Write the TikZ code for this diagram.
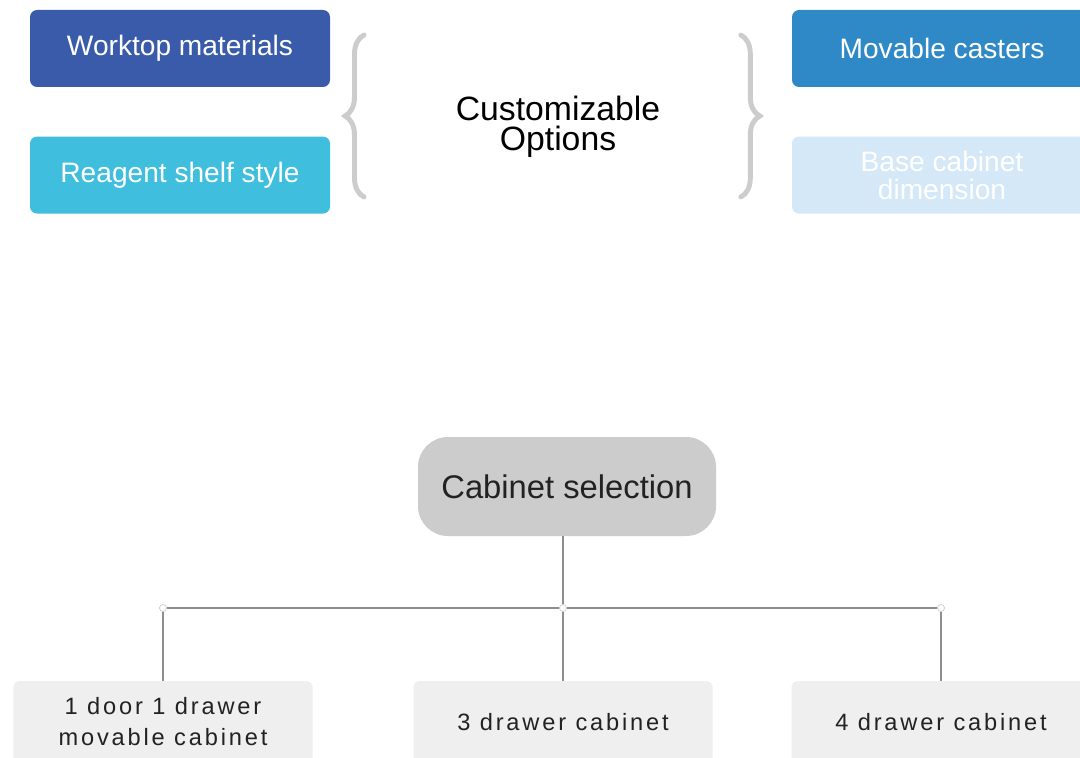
\documentclass[tikz,border=0pt]{standalone}
\usepackage{fontspec}
\setsansfont{Liberation Sans}
\newfontfamily\widesans[LetterSpace=12]{Liberation Sans}
\usepackage{xcolor}
\usepackage{tikz}
\usetikzlibrary{positioning,decorations.pathreplacing}
\definecolor{navy}{HTML}{3A5BA9}
\definecolor{cyan}{HTML}{40BEDD}
\definecolor{ocean}{HTML}{3089C7}
\definecolor{pale}{HTML}{D4E8F8}
\definecolor{stone}{HTML}{CCCCCC}
\definecolor{mist}{HTML}{EFEFEF}
\definecolor{wire}{HTML}{8E8E8E}
\definecolor{ink}{HTML}{222222}
\tikzset{
  every node/.style={font=\sffamily},
  opt/.style={rounded corners=5pt,minimum width=7.5cm,minimum height=1.925cm,
              align=center,text=white,inner sep=0pt,
              font=\sffamily\fontsize{20}{20}\selectfont},
  kind/.style={rounded corners=4pt,fill=mist,minimum width=7.475cm,minimum height=2.05cm,
               align=center,text=ink,inner sep=0pt,
               font=\widesans\fontsize{16.8}{22}\selectfont},
  root/.style={rounded corners=0.75cm,fill=stone,minimum width=7.45cm,minimum height=2.475cm,
               text=ink,inner sep=0pt,font=\sffamily\fontsize{23.3}{26}\selectfont},
  curly/.style={draw=stone,line width=3.5pt,line cap=round,decorate,
                decoration={brace,amplitude=0.475cm}},
  link/.style={draw=wire,line width=1.6pt},
  knot/.style={circle,fill=white,draw=stone,line width=0.5pt,inner sep=0pt,minimum size=5pt},
}
\begin{document}
\begin{tikzpicture}[x=1cm,y=1cm]
\clip (0,0) rectangle (27,18.925);
\fill[white] (0,0) rectangle (27,18.925);
% options
\node[opt,fill=navy] (wt) at (4.5,17.7125) {Worktop materials};
\node[opt,fill=cyan,below=1.225cm of wt] (rs) {Reagent shelf style};
\node[opt,fill=ocean] (mc) at (23.55,17.7125) {Movable casters};
\node[opt,fill=pale,below=1.225cm of mc] (bc) {Base cabinet\\dimension};
\node[align=center,font=\sffamily\fontsize{24}{21}\selectfont] (co) at (13.95,15.75)
 {Customizable\\Options};
\draw[curly] (9.1,14.0) -- (9.1,18.05);
\draw[curly] (18.52,18.05) -- (18.52,14.0);
% cabinets
\node[root] (sel) at (14.175,6.7625) {Cabinet selection};
\node[kind] (k1) at (4.075,0.875) {1 door 1 drawer\\movable cabinet};
\node[kind] (k2) at (14.075,0.875) {3 drawer cabinet};
\node[kind] (k3) at (23.525,0.875) {4 drawer cabinet};
\coordinate (j1) at (k1.north |- 0,3.725);
\coordinate (j2) at (k2.north |- 0,3.725);
\coordinate (j3) at (k3.north |- 0,3.725);
\draw[link] (sel.south -| j2) -- (j2);
\draw[link] (j1) -- (j3);
\draw[link] (j1) -- (k1.north);
\draw[link] (j2) -- (k2.north);
\draw[link] (j3) -- (k3.north);
\node[knot] at (j1) {};
\node[knot] at (j2) {};
\node[knot] at (j3) {};
\end{tikzpicture}
\end{document}
